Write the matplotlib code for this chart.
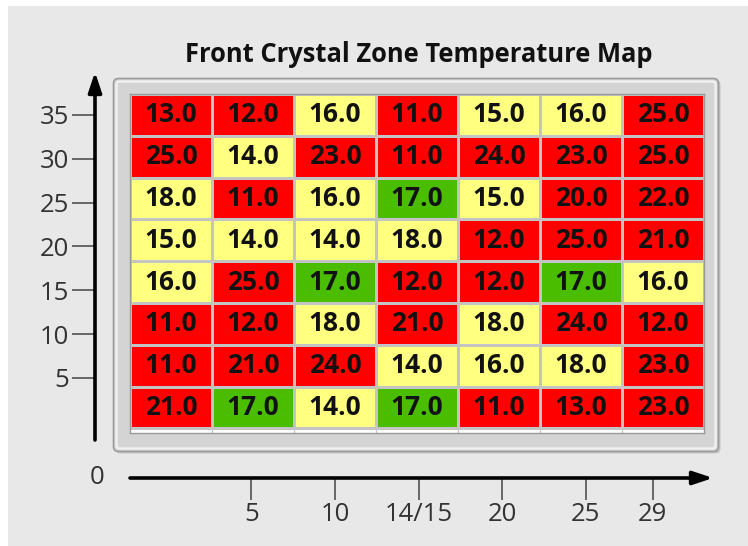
import numpy as np
import matplotlib
matplotlib.use("Agg")
import matplotlib.pyplot as plt
from matplotlib.colors import ListedColormap, BoundaryNorm
from matplotlib.patches import FancyBboxPatch, Rectangle

plt.rcParams['font.family'] = ['Open Sans', 'DejaVu Sans']

# ---------------- data ----------------
title = "Front Crystal Zone Temperature Map"

# cell values, rows listed from top to bottom
row1 = [13, 12, 16, 11, 15, 16, 25]
row2 = [25, 14, 23, 11, 24, 23, 25]
row3 = [18, 11, 16, 17, 15, 20, 22]
row4 = [15, 14, 14, 18, 12, 25, 21]
row5 = [16, 25, 17, 12, 12, 17, 16]
row6 = [11, 12, 18, 21, 18, 24, 12]
row7 = [11, 21, 24, 14, 16, 18, 23]
row8 = [21, 17, 14, 17, 11, 13, 23]
values = [row1, row2, row3, row4, row5, row6, row7, row8]

y_ticks = [5, 10, 15, 20, 25, 30, 35]
y_tick_labels = ["5", "10", "15", "20", "25", "30", "35"]
x_ticks = [5, 10, 15, 20, 25, 29]
x_tick_labels = ["5", "10", "14/15", "20", "25", "29"]
origin_label = "0"

# colour bands for the cell values
band_edges = [0, 13.5, 16.5, 17.5, 19.5, 100]
band_colors = ["#ff0000", "#ffff80", "#4bbd00", "#ffff80", "#ff0000"]

# ---------------- figure ----------------
W, H = 748, 546
fig = plt.figure(figsize=(W / 100, H / 100), dpi=100, facecolor="#e8e8e8")


def box(x0, y0, x1, y1):
    return [x0 / W, 1 - y1 / H, (x1 - x0) / W, (y1 - y0) / H]


# background / panel frame (pixel coordinates)
bg = fig.add_axes([0, 0, 1, 1], zorder=0)
bg.set_xlim(0, W)
bg.set_ylim(H, 0)
bg.axis("off")
bg.add_patch(Rectangle((0, 0), W, 6, fc="white", ec="none"))
bg.add_patch(Rectangle((0, 0), 8, H, fc="white", ec="none"))
bg.add_patch(FancyBboxPatch((115.5, 80.5), 605, 373,
                            boxstyle="round,pad=0,rounding_size=5",
                            fc="#c6c6c6", ec="none"))
bg.add_patch(FancyBboxPatch((113.5, 78.5), 605, 373,
                            boxstyle="round,pad=0,rounding_size=5",
                            fc="#d4d4d4", ec="#9c9c9c", lw=1.2))
bg.add_patch(FancyBboxPatch((116.5, 81.5), 599, 367,
                            boxstyle="round,pad=0,rounding_size=3",
                            fc="none", ec="#f2f2f2", lw=1.6))

# table
nrows, ncols = len(values), len(values[0])
strip = 0.11
arr = np.array(values, dtype=float)
cmap = ListedColormap(band_colors)
norm = BoundaryNorm(band_edges, cmap.N)

ax = fig.add_axes(box(130, 94, 704, 433), zorder=2)
ax.set_facecolor("white")
ax.pcolormesh(np.arange(ncols + 1), np.arange(nrows + 1), arr, cmap=cmap,
              norm=norm, edgecolors="#c4c4c4", linewidth=0.9)
ax.vlines(np.arange(1, ncols), nrows, nrows + strip, colors="#c4c4c4", lw=0.9)
for i in range(nrows):
    for j in range(ncols):
        ax.text(j + 0.5, i + 0.5, f"{arr[i, j]:.1f}", ha="center",
                va="center", fontsize=19, fontweight="bold", color="#111111")
ax.set_xlim(0, ncols)
ax.set_ylim(nrows + strip, 0)
ax.set_xticks([])
ax.set_yticks([])
for s in ax.spines.values():
    s.set_color("#9a9a9a")
    s.set_linewidth(1)

arrow_style = dict(arrowstyle="-|>,head_length=0.6,head_width=0.2", lw=2.6,
                   color="black", shrinkA=0, shrinkB=0, mutation_scale=20)

# y axis (top of box raised so the arrow tip reaches the reference height)
y_top_px, y_bot_px = 72, 440
ay = fig.add_axes(box(95, y_top_px, 96, y_bot_px), zorder=3)
ay.patch.set_visible(False)
for s in ay.spines.values():
    s.set_visible(False)
ay.set_xlim(0, 1)
ay.set_ylim((421.8 - y_bot_px) / 8.767, (421.8 - y_top_px) / 8.767)
ay.set_xticks([])
ay.set_yticks(y_ticks, y_tick_labels)
ay.tick_params(axis="y", direction="out", length=16.5, width=1.1,
               color="#444444", pad=2, labelsize=18.5, labelcolor="#333333")
ay.annotate("", xy=(0, 1), xytext=(0, 0), xycoords="axes fraction",
            textcoords="axes fraction", arrowprops=arrow_style)

# x axis
x_left_px, x_right_px = 130, 713
axx = fig.add_axes(box(x_left_px, 477.5, x_right_px, 478.5), zorder=3)
axx.patch.set_visible(False)
for s in axx.spines.values():
    s.set_visible(False)
axx.set_ylim(0, 1)
axx.set_xlim((x_left_px - 167.7) / 16.72, (x_right_px - 167.7) / 16.72)
axx.set_yticks([])
axx.set_xticks(x_ticks, x_tick_labels)
axx.tick_params(axis="x", direction="out", length=15, width=1.1,
                color="#444444", pad=2, labelsize=18.5, labelcolor="#333333")
axx.annotate("", xy=(1, 0.5), xytext=(0, 0.5), xycoords="axes fraction",
             textcoords="axes fraction", arrowprops=arrow_style)

fig.text(97 / W, 1 - 478 / H, origin_label, ha="center", va="center",
         fontsize=18.5, color="#333333")

fig.text(419 / W, 1 - 55 / H, title, ha="center", va="center",
         fontsize=18.4, fontweight="bold", color="#111111")

fig.savefig("out.png", dpi=100, facecolor=fig.get_facecolor())
